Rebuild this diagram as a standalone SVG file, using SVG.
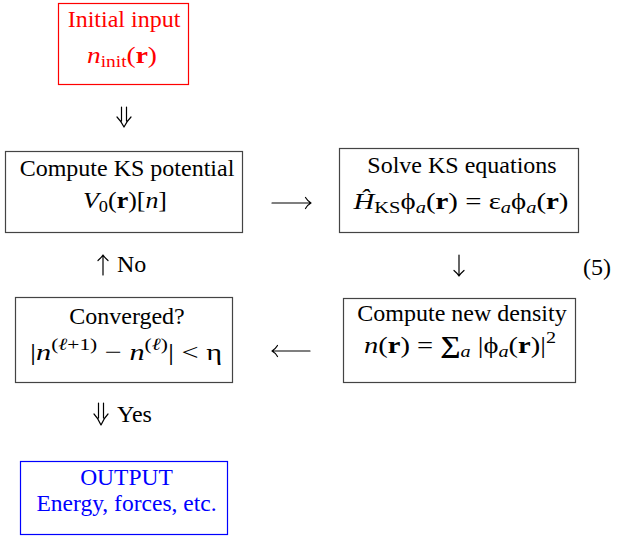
<svg xmlns="http://www.w3.org/2000/svg" width="641" height="538" viewBox="0 0 641 538">
<style>
.t{font-family:"Liberation Serif","DejaVu Serif",serif;font-size:24px;text-anchor:middle;fill:#000}
.l{font-family:"Liberation Serif","DejaVu Serif",serif;font-size:24px;fill:#000}
.i{font-style:italic}
.b{font-weight:bold}
.s{font-size:17px}
.box{fill:none;stroke:#444;stroke-width:1.2}
.ar{fill:none;stroke:#000;stroke-width:1.2;stroke-linecap:round;stroke-linejoin:round}
</style>
<rect width="641" height="538" fill="#fff"/>
<g id="init">
<rect x="58.5" y="3.5" width="130" height="81" fill="none" stroke="#f00" stroke-width="1.2"/>
<text class="t" x="124" y="27" style="fill:#f00">Initial input</text>
<text class="t" x="122" y="63" style="fill:#f00" textLength="70" lengthAdjust="spacingAndGlyphs"><tspan class="i">n</tspan><tspan class="s" dy="4">init</tspan><tspan dy="-4">(</tspan><tspan class="b">r</tspan>)</text>
</g>
<g id="ksPotential">
<rect class="box" x="5.5" y="151.5" width="237" height="81"/>
<text class="t" x="127" y="176">Compute KS potential</text>
<text class="t" x="125" y="208" textLength="84" lengthAdjust="spacingAndGlyphs"><tspan class="i">V</tspan><tspan class="s" dy="4">0</tspan><tspan dy="-4">(</tspan><tspan class="b">r</tspan>)[<tspan class="i">n</tspan>]</text>
</g>
<g id="solveKS">
<rect class="box" x="339.5" y="148.5" width="239" height="84"/>
<text class="t" x="462" y="173">Solve KS equations</text>
<text class="t" x="461" y="209" textLength="215" lengthAdjust="spacingAndGlyphs"><tspan class="i">Ĥ</tspan><tspan class="s" dy="4">KS</tspan><tspan dy="-4">ϕ</tspan><tspan class="s i" dy="4">a</tspan><tspan dy="-4">(</tspan><tspan class="b">r</tspan>) = ε<tspan class="s i" dy="4">a</tspan><tspan dy="-4">ϕ</tspan><tspan class="s i" dy="4">a</tspan><tspan dy="-4">(</tspan><tspan class="b">r</tspan>)</text>
</g>
<g id="newDensity">
<rect class="box" x="343.5" y="298.5" width="232" height="84"/>
<text class="t" x="462" y="321">Compute new density</text>
<text class="t" x="460" y="353" textLength="192" lengthAdjust="spacingAndGlyphs"><tspan class="i">n</tspan>(<tspan class="b">r</tspan>) = <tspan class="b">∑</tspan><tspan class="s i" dy="4">a</tspan><tspan dy="-4"> |ϕ</tspan><tspan class="s i" dy="4">a</tspan><tspan dy="-4">(</tspan><tspan class="b">r</tspan>)|<tspan class="s" dy="-10">2</tspan></text>
</g>
<g id="converged">
<rect class="box" x="15.5" y="297.5" width="217" height="85"/>
<text class="t" x="127" y="324">Converged?</text>
<text class="t" x="126" y="360" textLength="192" lengthAdjust="spacingAndGlyphs">|<tspan class="i">n</tspan><tspan class="s" dy="-10">(<tspan class="i">ℓ</tspan>+1)</tspan><tspan dy="10"> − </tspan><tspan class="i">n</tspan><tspan class="s" dy="-10">(<tspan class="i">ℓ</tspan>)</tspan><tspan dy="10">| &lt; η</tspan></text>
</g>
<g id="output">
<rect x="20.5" y="461.5" width="207" height="73" fill="none" stroke="#00f" stroke-width="1.2"/>
<text class="t" x="126.5" y="485" style="fill:#00f;font-size:23.5px">OUTPUT</text>
<text class="t" x="126.5" y="511" style="fill:#00f;font-size:23.5px">Energy, forces, etc.</text>
</g>
<g id="eqnum">
<text class="l" x="583" y="275">(5)</text>
</g>
<g id="connectors">
<path class="ar" d="M121.5,107 V121 M126.5,107 V121 M117,117 Q121,121 124,127 Q127,121 131,117"/>
<path class="ar" d="M272,203 H311 M305.5,197.5 Q308,201.5 311,203 Q308,204.5 305.5,208.5"/>
<path class="ar" d="M459,255 V276 M454,270.5 Q457.5,273.5 459,276 Q460.5,273.5 464,270.5"/>
<path class="ar" d="M310,351 H272 M277.5,345.5 Q275,349.5 272,351 Q275,352.5 277.5,356.5"/>
<path class="ar" d="M103,275 V255 M98,260.5 Q101.5,257.5 103,255 Q104.5,257.5 108,260.5"/>
<text class="l" x="117" y="272">No</text>
<path class="ar" d="M98.5,403 V418 M103.5,403 V418 M94,414 Q98,418 101,425 Q104,418 108,414"/>
<text class="l" x="117" y="422">Yes</text>
</g>
</svg>
